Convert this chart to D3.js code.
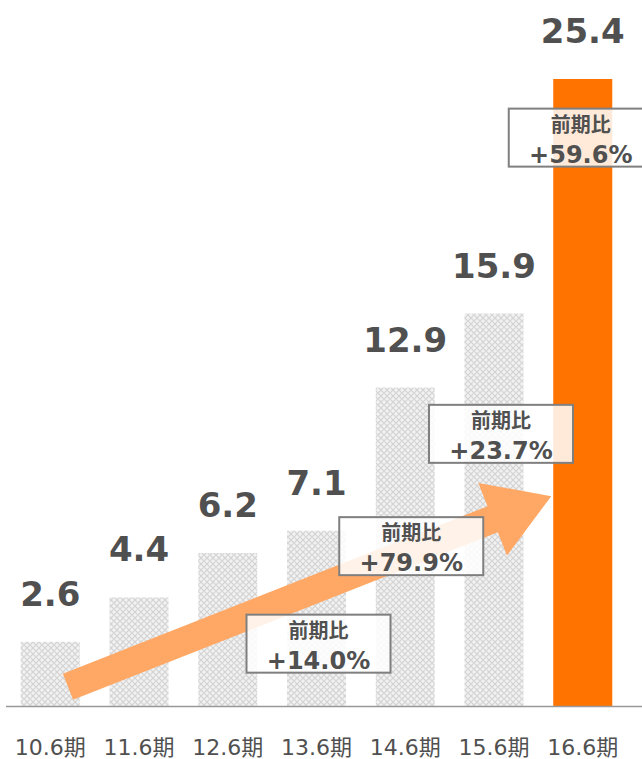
<!DOCTYPE html>
<html>
<head>
<meta charset="utf-8">
<script src="https://cdn.jsdelivr.net/npm/d3@7"></script>
<style>
  body { margin: 0; background: #fff; }
  svg { display: block; }
</style>
</head>
<body>
<svg></svg>
<script>
// Chart size
const width = 642, height = 759;

// Data
const periods = ["10.6期", "11.6期", "12.6期", "13.6期", "14.6期", "15.6期", "16.6期"];
const sales = [2.6, 4.4, 6.2, 7.1, 12.9, 15.9, 25.4];
const growthPeriods = ["13.6期", "14.6期", "15.6期", "16.6期"];
const growthLabels = ["+14.0%", "+79.9%", "+23.7%", "+59.6%"];

// Box placement: vertical level in value units, small horizontal nudge
const boxLevels = [3.7, 7.65, 12.2, 24.2];
const boxNudge = [0, 4, 5, -4];

const svg = d3.select("svg")
  .attr("width", width)
  .attr("height", height);

const x = d3.scaleBand()
  .domain(periods)
  .range([-9, 642])
  .padding(0.335);

const y = d3.scaleLinear()
  .domain([0, 25.4])
  .range([706, 79]);

const font = "'DejaVu Sans', 'Noto Sans CJK JP', sans-serif";
const textColor = "#505050";

// Gray diamond pattern for the past bars
const defs = svg.append("defs");
const pat = defs.append("pattern")
  .attr("id", "dots")
  .attr("width", 6)
  .attr("height", 6)
  .attr("patternUnits", "userSpaceOnUse");
pat.append("rect").attr("width", 6).attr("height", 6).attr("fill", "#f2f2f2");
pat.append("path").attr("d", "M3,0 L6,3 L3,6 L0,3 Z").attr("fill", "none")
  .attr("stroke", "#d4d4d4").attr("stroke-width", 1.2);

// Bars
svg.append("g")
  .selectAll("rect")
  .data(sales)
  .join("rect")
  .attr("x", (d, i) => x(periods[i]))
  .attr("y", d => y(d))
  .attr("width", x.bandwidth())
  .attr("height", d => y(0) - y(d))
  .attr("fill", (d, i) => i === sales.length - 1 ? "#ff7300" : "url(#dots)");

// Baseline
svg.append("line")
  .attr("x1", 6).attr("x2", width)
  .attr("y1", y(0) + 0.5).attr("y2", y(0) + 0.5)
  .attr("stroke", "#999").attr("stroke-width", 1.5);

// Category labels
svg.append("g")
  .selectAll("text")
  .data(periods)
  .join("text")
  .attr("x", d => x(d) + x.bandwidth() / 2)
  .attr("y", 755)
  .attr("text-anchor", "middle")
  .attr("font-family", font)
  .attr("font-size", 22)
  .attr("fill", "#505050")
  .text(d => d);

// Growth arrow from first bar to the last one
const start = [x(periods[0]) + x.bandwidth() * 0.8, y(0.78)];
const end = [x(periods[6]) - 2, y(8.5)];
const dx = end[0] - start[0], dy = end[1] - start[1];
const len = Math.hypot(dx, dy);
const ux = dx / len, uy = dy / len, nx = -uy, ny = ux;
const shaftW = 14, headW = 39, headL = 63;
const pt = (along, across) => [start[0] + ux * along + nx * across, start[1] + uy * along + ny * across];
const arrowPts = [
  pt(0, -shaftW), pt(len - headL, -shaftW), pt(len - headL, -headW),
  pt(len, 0),
  pt(len - headL, headW), pt(len - headL, shaftW), pt(0, shaftW)
];
svg.append("polygon")
  .attr("points", arrowPts.map(p => p.join(",")).join(" "))
  .attr("fill", "#ffa865");

// Growth boxes
const boxW = 144, boxH = 58;
const boxes = svg.append("g")
  .selectAll("g")
  .data(growthLabels)
  .join("g")
  .attr("transform", (d, i) => `translate(${x(growthPeriods[i]) + x.bandwidth() / 2 - boxW / 2 + 2 + boxNudge[i]},${y(boxLevels[i])})`);

boxes.append("rect")
  .attr("width", boxW)
  .attr("height", boxH)
  .attr("fill", "#fff")
  .attr("fill-opacity", 0.85)
  .attr("stroke", "#7f7f7f")
  .attr("stroke-width", 2);

boxes.append("text")
  .attr("x", boxW / 2)
  .attr("y", 23)
  .attr("text-anchor", "middle")
  .attr("font-family", "'Noto Sans CJK JP', sans-serif")
  .attr("font-weight", "bold")
  .attr("font-size", 20)
  .attr("fill", textColor)
  .text("前期比");

boxes.append("text")
  .attr("x", boxW / 2)
  .attr("y", 54)
  .attr("text-anchor", "middle")
  .attr("font-family", font)
  .attr("font-weight", "bold")
  .attr("font-size", 24)
  .attr("fill", textColor)
  .text(d => d);

// Value labels
svg.append("g")
  .selectAll("text")
  .data(sales)
  .join("text")
  .attr("x", (d, i) => x(periods[i]) + x.bandwidth() / 2)
  .attr("y", d => y(d) - 36)
  .attr("text-anchor", "middle")
  .attr("font-family", font)
  .attr("font-weight", "bold")
  .attr("font-size", 34)
  .attr("fill", textColor)
  .text(d => d.toFixed(1));
</script>
</body>
</html>
